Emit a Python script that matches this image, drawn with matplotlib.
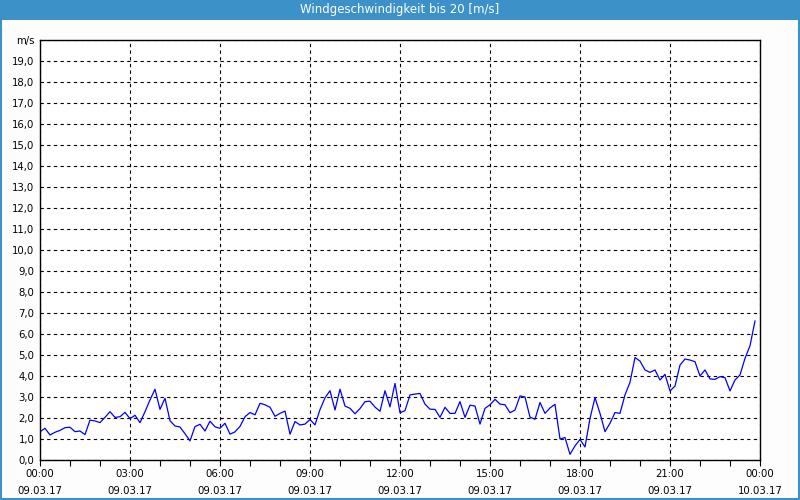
import matplotlib
matplotlib.use("Agg")
import matplotlib.pyplot as plt
import matplotlib.dates as mdates
from matplotlib.patches import Rectangle
import pandas as pd

# 10-minute wind speed samples, 09.03.17 00:00 .. 23:50
start = "2017-03-09 00:00"
end = "2017-03-10 00:00"
speed = [
    1.35, 1.51, 1.19, 1.32, 1.41, 1.54, 1.56, 1.35, 1.38, 1.21,
    1.90, 1.86, 1.78, 2.03, 2.30, 2.03, 2.06, 2.27, 1.97, 2.13,
    1.78, 2.30, 2.86, 3.37, 2.41, 2.94, 1.87, 1.62, 1.57, 1.25,
    0.91, 1.59, 1.70, 1.38, 1.85, 1.58, 1.51, 1.75, 1.23, 1.34,
    1.60, 2.06, 2.26, 2.15, 2.70, 2.63, 2.51, 2.08, 2.22, 2.33,
    1.23, 1.83, 1.67, 1.71, 1.93, 1.67, 2.40, 2.96, 3.30, 2.38,
    3.37, 2.57, 2.46, 2.20, 2.45, 2.78, 2.80, 2.52, 2.32, 3.30,
    2.53, 3.65, 2.25, 2.35, 3.10, 3.14, 3.17, 2.66, 2.42, 2.41,
    2.03, 2.51, 2.22, 2.22, 2.78, 2.03, 2.61, 2.57, 1.71, 2.46,
    2.63, 2.89, 2.66, 2.63, 2.25, 2.38, 3.05, 3.00, 2.04, 1.94,
    2.74, 2.22, 2.48, 2.65, 1.00, 1.07, 0.27, 0.67, 0.98, 0.62,
    1.98, 2.97, 2.22, 1.35, 1.75, 2.26, 2.22, 3.10, 3.70, 4.88,
    4.71, 4.29, 4.17, 4.29, 3.81, 4.08, 3.29, 3.52, 4.52, 4.81,
    4.76, 4.68, 4.00, 4.29, 3.86, 3.84, 3.97, 3.92, 3.29, 3.81,
    4.05, 4.84, 5.44, 6.62,
]
times = pd.date_range(start, periods=len(speed), freq="10min")

y_ticks = list(range(0, 21))
y_labels = [f"{v},0" for v in range(0, 20)] + ["m/s"]
title = "Windgeschwindigkeit bis 20 [m/s]"

bar_blue = "#3c91c8"

fig = plt.figure(figsize=(8, 5), dpi=100, facecolor="#fcfdfc")
ax = fig.add_axes([0.05, 0.08, 0.9, 0.84])
ax.set_facecolor("white")

ax.plot(times, speed, color="#0000ff", linewidth=0.9)

ax.set_xlim(pd.Timestamp(start), pd.Timestamp(end))
ax.set_ylim(0, 20)
ax.xaxis.set_major_locator(mdates.HourLocator(byhour=range(0, 24, 3)))
ax.xaxis.set_minor_locator(mdates.HourLocator())
ax.xaxis.set_major_formatter(mdates.DateFormatter("%H:%M\n%d.%m.%y"))
ax.set_yticks(y_ticks)
ax.set_yticklabels(y_labels)

ax.tick_params(axis="x", which="both", direction="out", length=4, width=0.8,
               labelsize=7.3, pad=2.5)
ax.tick_params(axis="y", length=0, labelsize=7.3, pad=4)
for lbl in ax.get_xticklabels():
    lbl.set_linespacing(1.85)

ax.grid(True, which="major", color="black", linestyle=(0, (3, 3)), linewidth=0.8)
for s in ax.spines.values():
    s.set_color("black")
    s.set_linewidth(1.0)

# title bar
fig.add_artist(Rectangle((0, 0.96), 1, 0.04, transform=fig.transFigure,
                         facecolor=bar_blue, edgecolor="none"))
fig.text(0.5, 0.98, title, color="white", ha="center", va="center", fontsize=8.5)
# outer frame
fig.add_artist(Rectangle((0.001, 0.002), 0.998, 0.997, transform=fig.transFigure,
                         facecolor="none", edgecolor=bar_blue, linewidth=1.5))

fig.savefig("out.png", dpi=100, facecolor=fig.get_facecolor())
